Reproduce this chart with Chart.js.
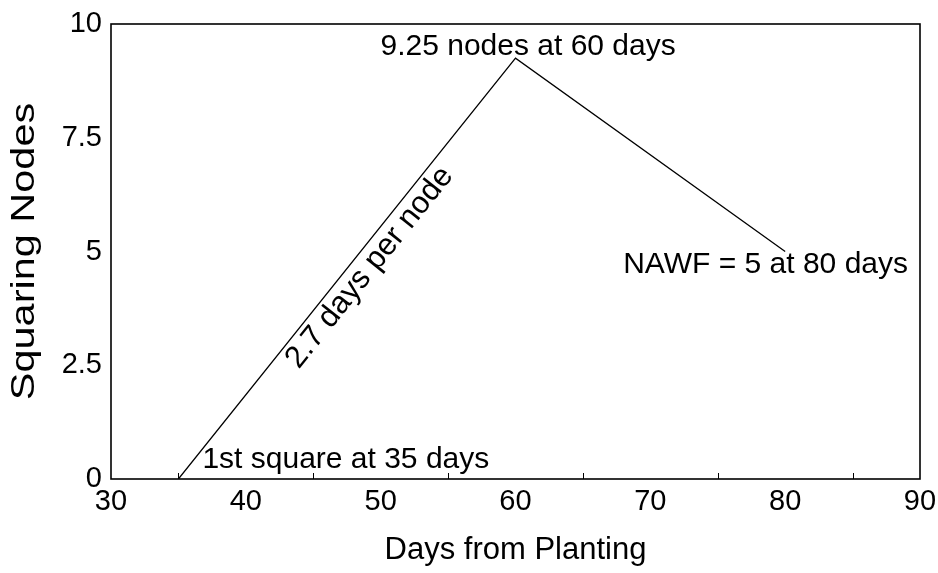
<!DOCTYPE html>
<html><head><meta charset="utf-8">
<script src="https://cdn.jsdelivr.net/npm/chart.js@4"></script>
<style>html,body{margin:0;padding:0;background:#fff}#wrap{width:938px;height:573px}</style>
</head><body><div id="wrap"><canvas id="c" width="938" height="573"></canvas></div>
<script>
const days = [35, 60, 80];
const nodes = [0, 9.25, 5];
const xTicks = [30, 40, 50, 60, 70, 80, 90];
const xMinorTicks = [35, 45, 55, 65, 75, 85];
const yTicks = [0, 2.5, 5, 7.5, 10];
const yTitle = 'Squaring Nodes';
const xTitle = 'Days from Planting';
const notes = [
  {text: '9.25 nodes at 60 days', x: 60, y: 9.25},
  {text: 'NAWF = 5 at 80 days', x: 80, y: 5},
  {text: '1st square at 35 days', x: 35, y: 0},
  {text: '2.7 days per node', x: 48.2, y: 4.88}
];
const FONT = '"Liberation Sans", Arial, sans-serif';

const extras = {
  id: 'extras',
  afterDraw(chart) {
    const ctx = chart.ctx, a = chart.chartArea, xs = chart.scales.x, ys = chart.scales.y;
    ctx.save();
    ctx.strokeStyle = '#000'; ctx.lineWidth = 1.6;
    ctx.strokeRect(a.left, a.top, a.right - a.left, a.bottom - a.top);
    ctx.lineWidth = 1;
    xMinorTicks.forEach(v => {
      const px = Math.round(xs.getPixelForValue(v)) + 0.5;
      ctx.beginPath(); ctx.moveTo(px, a.bottom); ctx.lineTo(px, a.bottom - 6); ctx.stroke();
    });
    ctx.fillStyle = '#000';
    ctx.font = '30px ' + FONT;
    ctx.textBaseline = 'alphabetic';
    ctx.textAlign = 'left';
    const px = n => ({x: xs.getPixelForValue(n.x), y: ys.getPixelForValue(n.y)});
    let p = px(notes[0]);
    ctx.fillText(notes[0].text, p.x - 135, p.y - 3);
    p = px(notes[1]);
    ctx.fillText(notes[1].text, p.x - 162, p.y + 21);
    p = px(notes[2]);
    ctx.fillText(notes[2].text, p.x + 24, p.y - 11);
    // y axis title, slightly stretched along its length
    ctx.save();
    ctx.translate(25, (a.top + a.bottom) / 2);
    ctx.rotate(-Math.PI / 2);
    ctx.scale(1.22, 1);
    ctx.font = '34px ' + FONT;
    ctx.textAlign = 'center'; ctx.textBaseline = 'middle';
    ctx.fillText(yTitle, 0, 0);
    ctx.restore();
    // slope label, rotated along the rising segment
    const p0 = {x: xs.getPixelForValue(days[0]), y: ys.getPixelForValue(nodes[0])};
    const p1 = {x: xs.getPixelForValue(days[1]), y: ys.getPixelForValue(nodes[1])};
    const ang = Math.atan2(p1.y - p0.y, p1.x - p0.x);
    p = px(notes[3]);
    ctx.translate(p.x, p.y); ctx.rotate(ang);
    ctx.textAlign = 'center'; ctx.textBaseline = 'middle';
    ctx.font = '31px ' + FONT;
    ctx.fillText(notes[3].text, 0, 17);
    ctx.restore();
  }
};

new Chart(document.getElementById('c'), {
  type: 'scatter',
  data: { datasets: [{
    data: days.map((d, i) => ({x: d, y: nodes[i]})),
    showLine: true, borderColor: '#000', borderWidth: 1.3,
    pointRadius: 0, fill: false, tension: 0
  }]},
  options: {
    responsive: false, animation: false,
    layout: { padding: { top: 24, right: 18, left: 0, bottom: 0 } },
    plugins: { legend: { display: false }, tooltip: { enabled: false } },
    scales: {
      x: {
        type: 'linear', min: 30, max: 90,
        afterBuildTicks: s => { s.ticks = xTicks.map(v => ({value: v})); },
        afterFit: s => { s.height = 94; s.paddingLeft = 0; s.paddingRight = 0; },
        grid: { display: false, drawTicks: false },
        border: { display: false },
        ticks: { color: '#000', font: { size: 29, family: FONT }, padding: 6, maxRotation: 0,
                 callback: v => String(v) },
        title: { display: true, text: xTitle, color: '#000',
                 font: { size: 31, family: FONT }, padding: { top: 4 } }
      },
      y: {
        type: 'linear', min: 0, max: 10,
        afterBuildTicks: s => { s.ticks = yTicks.map(v => ({value: v})); },
        afterFit: s => { s.width = 111; s.paddingTop = 0; s.paddingBottom = 0; },
        grid: { display: false, drawTicks: false },
        border: { display: false },
        ticks: { color: '#000', font: { size: 29, family: FONT }, padding: 9,
                 callback: v => String(v) },
        title: { display: false }
      }
    }
  },
  plugins: [extras]
});
</script></body></html>
